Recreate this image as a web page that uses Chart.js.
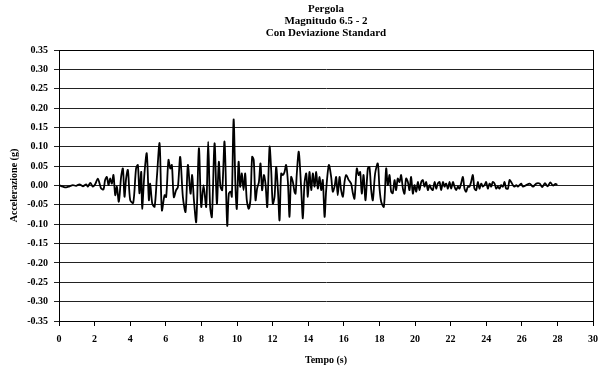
<!DOCTYPE html>
<html>
<head>
<meta charset="utf-8">
<script src="https://cdn.jsdelivr.net/npm/chart.js@4.4.1/dist/chart.umd.min.js"></script>
<style>
  html, body { margin: 0; padding: 0; background: #fff; }
  #chart { display: block; }
</style>
</head>
<body>
<canvas id="chart" width="605" height="372"></canvas>
<script>
// ─── DATA ──────────────────────────────────────────────
const titleLines = ['Pergola', 'Magnitudo 6.5 - 2', 'Con Deviazione Standard'];

// time (s) of each turning point of the trace
const timeSec = [
  0.00, 0.22, 0.40, 0.59, 0.78, 0.96, 1.15, 1.34, 1.53, 1.62, 1.76, 1.90, 2.03, 2.18, 2.28, 2.37,
  2.50, 2.59, 2.69, 2.78, 2.87, 2.97, 3.06, 3.16, 3.25, 3.36, 3.49, 3.59, 3.68, 3.77, 3.87, 4.00,
  4.17, 4.33, 4.43, 4.52, 4.62, 4.67, 4.80, 4.93, 5.05, 5.12, 5.24, 5.37, 5.50, 5.65, 5.78, 5.93,
  6.02, 6.15, 6.25, 6.34, 6.45, 6.58, 6.68, 6.81, 6.96, 7.11, 7.24, 7.39, 7.48, 7.58, 7.71, 7.86,
  7.99, 8.12, 8.27, 8.38, 8.49, 8.59, 8.74, 8.87, 8.98, 9.07, 9.17, 9.30, 9.45, 9.54, 9.64, 9.71,
  9.81, 9.92, 9.99, 10.09, 10.18, 10.27, 10.37, 10.46, 10.55, 10.66, 10.76, 10.85, 10.94, 11.04,
  11.13, 11.23, 11.32, 11.41, 11.51, 11.60, 11.70, 11.83, 11.92, 12.01, 12.11, 12.20, 12.30, 12.39,
  12.48, 12.58, 12.67, 12.76, 12.86, 12.95, 13.04, 13.14, 13.23, 13.29, 13.36, 13.47, 13.60, 13.70,
  13.79, 13.89, 13.98, 14.07, 14.17, 14.26, 14.36, 14.45, 14.54, 14.64, 14.73, 14.82, 14.92, 15.01,
  15.16, 15.29, 15.38, 15.48, 15.57, 15.66, 15.76, 15.85, 15.95, 16.04, 16.13, 16.28, 16.41, 16.51,
  16.60, 16.73, 16.83, 16.92, 17.01, 17.11, 17.22, 17.35, 17.44, 17.54, 17.63, 17.76, 17.91, 18.00,
  18.10, 18.25, 18.38, 18.47, 18.57, 18.66, 18.75, 18.85, 18.94, 19.03, 19.13, 19.22, 19.32, 19.41,
  19.50, 19.60, 19.69, 19.78, 19.88, 19.97, 20.07, 20.16, 20.25, 20.35, 20.44, 20.53, 20.63, 20.72,
  20.82, 20.91, 21.00, 21.10, 21.19, 21.28, 21.38, 21.47, 21.57, 21.66, 21.75, 21.85, 21.94, 22.03,
  22.13, 22.22, 22.31, 22.41, 22.50, 22.59, 22.69, 22.78, 22.87, 22.97, 23.06, 23.15, 23.25, 23.34,
  23.44, 23.53, 23.62, 23.72, 23.81, 23.90, 24.00, 24.09, 24.19, 24.28, 24.37, 24.47, 24.56, 24.65,
  24.75, 24.84, 24.94, 25.03, 25.12, 25.22, 25.31, 25.40, 25.50, 25.59, 25.69, 25.78, 25.87, 25.97,
  26.06, 26.25, 26.44, 26.63, 26.81, 27.00, 27.15, 27.30, 27.45, 27.60, 27.75, 27.90, 28.00
];

// acceleration (g) at each of those times
const accelG = [
  0.001, -0.003, -0.005, -0.002, 0.001, -0.001, 0.003, -0.002, 0.003, -0.003, 0.007, -0.003, 0.003, 0.018, 0.005, -0.008,
  -0.010, 0.014, 0.022, 0.001, 0.018, 0.005, 0.027, -0.025, -0.003, -0.042, 0.022, 0.044, -0.029, 0.018, 0.040, -0.038,
  -0.045, 0.044, 0.053, -0.020, 0.035, -0.060, 0.031, 0.083, -0.038, 0.005, -0.047, -0.055, 0.022, 0.109, -0.064, -0.025,
  -0.030, 0.066, 0.044, 0.053, -0.030, -0.012, -0.004, 0.074, -0.030, -0.068, 0.053, -0.021, 0.027, -0.038, -0.094, 0.096,
  -0.055, 0.001, -0.055, 0.113, -0.055, -0.081, 0.109, -0.047, 0.061, -0.003, -0.012, 0.113, -0.103, -0.021, -0.016, -0.029,
  0.171, -0.012, -0.060, 0.061, -0.003, 0.031, -0.012, 0.031, -0.038, -0.060, -0.034, 0.074, 0.066, -0.038,
  -0.008, 0.009, 0.057, -0.012, 0.027, 0.005, -0.055, 0.100, 0.040, -0.047, -0.029, 0.048, -0.012, -0.090,
  0.031, 0.027, 0.035, 0.053, 0.009, -0.081, 0.022, 0.009, -0.016, -0.021, 0.031, 0.087, -0.003, -0.085,
  0.005, 0.031, -0.029, 0.035, -0.012, 0.031, -0.003, 0.035, -0.008, 0.022, -0.012, 0.014, -0.081, -0.012,
  0.053, 0.022, -0.016, -0.003, 0.022, -0.025, 0.022, -0.012, -0.029, 0.009, 0.027, 0.014, 0.005, -0.020,
  -0.034, 0.044, 0.027, 0.035, -0.021, 0.027, -0.038, 0.044, 0.048, -0.012, -0.038, 0.031, 0.057, -0.003,
  -0.042, -0.055, 0.044, 0.001, 0.027, -0.016, -0.020, 0.014, -0.012, 0.018, 0.009, 0.027, -0.008, -0.021,
  0.018, 0.009, -0.012, 0.022, -0.021, 0.001, -0.016, 0.009, -0.012, 0.009, 0.014, -0.003, 0.009, -0.012,
  0.001, -0.008, -0.012, 0.009, -0.008, 0.005, 0.009, -0.012, 0.009, -0.003, 0.005, -0.008, 0.009, -0.008,
  0.009, -0.003, -0.012, -0.003, -0.008, 0.005, 0.022, -0.008, -0.016, -0.003, -0.003, 0.009, 0.027, -0.008,
  -0.012, 0.009, -0.008, 0.005, -0.003, 0.001, 0.009, -0.008, 0.005, -0.003, 0.009, 0.005, -0.008, -0.003,
  -0.008, 0.001, -0.003, 0.009, -0.008, -0.008, 0.014, 0.009, 0.001, -0.003, 0.001, -0.003, 0.001, 0.005,
  -0.003, 0.001, 0.005, -0.003, 0.005, 0.005, -0.004, 0.006, -0.002, 0.008, 0.000, 0.004, 0.002
];

const xMin = 0, xMax = 30, xStep = 2;
const yMin = -0.35, yMax = 0.35, yStep = 0.05;

const points = timeSec.map((t, i) => ({ x: t, y: accelG[i] }));

const FONT = "'Liberation Serif', 'Times New Roman', serif";

// title centred over the plot area, plus frame round the plot
const frameAndTitle = {
  id: 'frameAndTitle',
  afterDraw(chart) {
    const { ctx, chartArea: a } = chart;
    ctx.save();
    ctx.strokeStyle = '#000';
    ctx.lineWidth = 1;
    ctx.strokeRect(Math.round(a.left) + 0.5, Math.round(a.top) + 0.5,
      Math.round(a.right - a.left), Math.round(a.bottom - a.top));
    ctx.fillStyle = '#000';
    ctx.font = `bold 11px ${FONT}`;
    ctx.textAlign = 'center';
    ctx.textBaseline = 'middle';
    const cx = (a.left + a.right) / 2;
    titleLines.forEach((line, i) => ctx.fillText(line, cx, 9 + i * 12));
    ctx.restore();
  }
};

new Chart(document.getElementById('chart'), {
  type: 'line',
  data: {
    datasets: [{
      data: points,
      borderColor: '#000',
      borderWidth: 1.8,
      pointRadius: 0,
      tension: 0.3,
      fill: false
    }]
  },
  options: {
    responsive: false,
    animation: false,
    devicePixelRatio: 1,
    layout: { padding: { top: 50, right: 11, left: 0, bottom: 0 } },
    plugins: {
      legend: { display: false },
      tooltip: { enabled: false },
      title: { display: false }
    },
    scales: {
      x: {
        type: 'linear',
        min: xMin,
        max: xMax,
        afterFit: s => { s.height = 51; },
        ticks: {
          stepSize: xStep,
          color: '#000',
          padding: 7,
          maxRotation: 0,
          font: { family: FONT, size: 10, weight: 'bold' },
          callback: v => String(v)
        },
        grid: { drawOnChartArea: false, drawTicks: true, tickLength: 5, color: '#000' },
        border: { color: '#000' },
        title: {
          display: true,
          text: 'Tempo (s)',
          color: '#000',
          padding: { top: 0, bottom: 6 },
          font: { family: FONT, size: 10, weight: 'bold' }
        }
      },
      y: {
        min: yMin,
        max: yMax,
        afterFit: s => { s.width = 59; },
        ticks: {
          stepSize: yStep,
          color: '#000',
          padding: 6,
          font: { family: FONT, size: 10, weight: 'bold' },
          callback: v => v.toFixed(2)
        },
        grid: { color: '#222', lineWidth: 1, tickLength: 5 },
        border: { color: '#000' },
        title: {
          display: true,
          text: 'Accelerazione (g)',
          color: '#000',
          padding: { top: 8, bottom: 0 },
          font: { family: FONT, size: 10, weight: 'bold' }
        }
      }
    }
  },
  plugins: [frameAndTitle]
});
</script>
</body>
</html>
